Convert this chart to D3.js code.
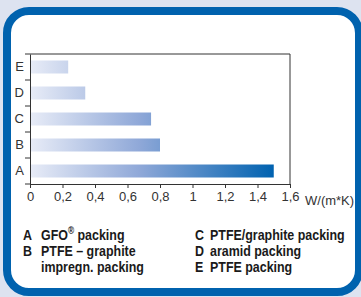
<!DOCTYPE html>
<html>
<head>
<meta charset="utf-8">
<script src="https://cdn.jsdelivr.net/npm/d3@7"></script>
<style>
  html, body { margin: 0; padding: 0; background: #dde3f0; }
  svg { display: block; }
</style>
</head>
<body>
<svg id="chart" width="361" height="297"></svg>
<script>
// Chart data
const categories = ["A", "B", "C", "D", "E"];
const values = [1.5, 0.8, 0.745, 0.34, 0.235];
const xTicks = [0, 0.2, 0.4, 0.6, 0.8, 1, 1.2, 1.4, 1.6];
const unitLabel = "W/(m*K)";
const legendLeft = [["A", "GFO", " packing"], ["B", "PTFE – graphite", ""], ["", "impregn. packing", ""]];
const legendRight = [["C", "PTFE/graphite packing"], ["D", "aramid packing"], ["E", "PTFE packing"]];

const svg = d3.select("#chart");
const blue = "#0062ae";

// Rounded panel with blue border
svg.append("rect")
  .attr("x", 7).attr("y", 11)
  .attr("width", 352).attr("height", 281)
  .attr("rx", 22).attr("ry", 22)
  .attr("fill", "#fff")
  .attr("stroke", blue)
  .attr("stroke-width", 8);

const plot = { left: 30, right: 290, top: 54, bottom: 184 };

const x = d3.scaleLinear().domain([0, 1.6]).range([plot.left, plot.right]);
const y = d3.scaleBand().domain(categories.slice().reverse()).range([plot.top, plot.bottom]).paddingInner(0.5).paddingOuter(0.25);

// Bar gradient across the whole x range
const grad = svg.append("defs").append("linearGradient")
  .attr("id", "barGrad")
  .attr("gradientUnits", "userSpaceOnUse")
  .attr("x1", x(0)).attr("x2", x(1.5)).attr("y1", 0).attr("y2", 0);
grad.append("stop").attr("offset", "0%").attr("stop-color", "#e8ecf7");
grad.append("stop").attr("offset", "45%").attr("stop-color", "#8fa8d8");
grad.append("stop").attr("offset", "100%").attr("stop-color", "#0062b0");

// Frame (top and right)
svg.append("path")
  .attr("d", `M${plot.left},${plot.top}H${plot.right}V${plot.bottom}`)
  .attr("fill", "none")
  .attr("stroke", "#333")
  .attr("stroke-width", 1);

// Bars
svg.selectAll("rect.bar")
  .data(categories)
  .join("rect")
  .attr("class", "bar")
  .attr("x", x(0) + 1)
  .attr("y", d => y(d))
  .attr("width", (d, i) => x(values[i]) - x(0) - 1)
  .attr("height", y.bandwidth())
  .attr("fill", "url(#barGrad)");

const fontAxis = "'Liberation Sans', Arial, sans-serif";

// X axis
const xAxis = svg.append("g")
  .attr("transform", `translate(0,${plot.bottom})`)
  .call(d3.axisBottom(x).tickValues(xTicks).tickSize(4).tickSizeOuter(0)
    .tickFormat(d => String(d).replace(".", ",")));
xAxis.selectAll("path, line").attr("stroke", "#333");
xAxis.selectAll("text")
  .attr("fill", "#333")
  .attr("y", 8)
  .style("font-family", fontAxis)
  .style("font-size", "13px");

// Y axis with ticks between categories
const yAxis = svg.append("g")
  .attr("transform", `translate(${plot.left},0)`)
  .call(d3.axisLeft(y).tickSize(0).tickPadding(6));
yAxis.select("path").attr("stroke", "#333");
yAxis.selectAll("text")
  .attr("fill", "#333")
  .style("font-family", fontAxis)
  .style("font-size", "13px");
yAxis.selectAll("line.sep")
  .data(d3.range(categories.length + 1))
  .join("line")
  .attr("class", "sep")
  .attr("x1", -5).attr("x2", 0)
  .attr("y1", i => plot.top + i * (plot.bottom - plot.top) / categories.length)
  .attr("y2", i => plot.top + i * (plot.bottom - plot.top) / categories.length)
  .attr("stroke", "#333");

// Unit label
svg.append("text")
  .attr("x", 305).attr("y", 205)
  .attr("fill", "#333")
  .style("font-family", fontAxis)
  .style("font-size", "13px")
  .text(unitLabel);

// Legend (bold, horizontally squeezed to look condensed)
const squeeze = 0.83;
const rowY = [240, 256, 272];
const legend = svg.append("g")
  .style("font-family", fontAxis)
  .style("font-weight", "bold")
  .style("font-size", "15px")
  .attr("fill", "#1a1a1a");

function legendText(px, py) {
  return legend.append("text")
    .attr("transform", `translate(${px},${py}) scale(${squeeze},1)`);
}

legendLeft.forEach((row, i) => {
  legendText(23, rowY[i]).text(row[0]);
  const t = legendText(41, rowY[i]);
  if (row[2]) {
    t.append("tspan").text(row[1]);
    t.append("tspan").attr("dy", -6).style("font-size", "10px").text("®");
    t.append("tspan").attr("dy", 6).text(row[2]);
  } else {
    t.text(row[1]);
  }
});

legendRight.forEach((row, i) => {
  legendText(195, rowY[i]).text(row[0]);
  legendText(210, rowY[i]).text(row[1]);
});
</script>
</body>
</html>
